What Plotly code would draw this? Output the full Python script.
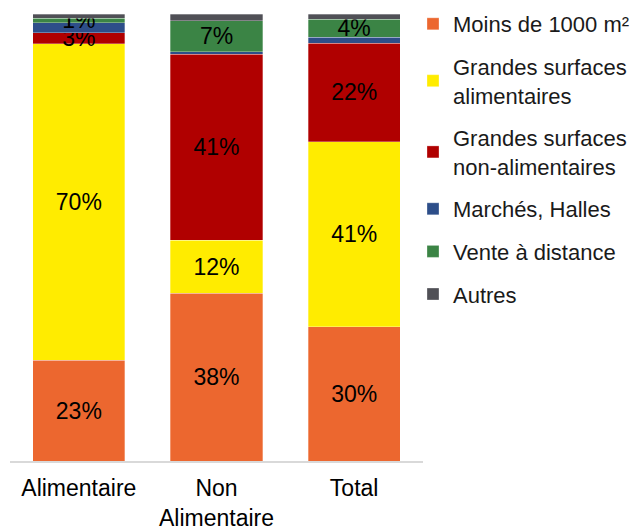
import plotly.graph_objects as go

categories = ["Alimentaire", "Non<br>Alimentaire", "Total"]
series_names = ["Moins de 1000 m²", "Grandes surfaces<br>alimentaires",
                "Grandes surfaces<br>non-alimentaires", "Marchés, Halles",
                "Vente à distance", "Autres"]
moins_1000 = [22.5, 37.5, 30.0]
gs_alim = [70.8, 11.9, 41.4]
gs_non_alim = [2.5, 41.6, 22.1]
marches = [2.2, 0.6, 1.3]
vente_distance = [1.1, 6.9, 4.0]
autres = [0.9, 1.5, 1.2]
labels_moins = ["23%", "38%", "30%"]
labels_gs_alim = ["70%", "12%", "41%"]
labels_gs_non = ["3%", "41%", "22%"]
labels_marches = ["", "", ""]
labels_vente = ["1%", "7%", "4%"]
labels_autres = ["", "", ""]

colors = ["#EC672F", "#FFEC00", "#B00000", "#2D4E89", "#3B8445", "#505056"]
values = [moins_1000, gs_alim, gs_non_alim, marches, vente_distance, autres]
texts = [labels_moins, labels_gs_alim, labels_gs_non, labels_marches, labels_vente, labels_autres]

FONT = "Liberation Sans, Arial, sans-serif"

fig = go.Figure()
for i, name in enumerate(series_names):
    fig.add_trace(go.Bar(
        x=categories, y=values[i], name=name,
        marker=dict(color=colors[i], line=dict(color="rgba(255,255,255,0.5)", width=0.6)),
        text=texts[i], textposition="inside", insidetextanchor="middle",
        textfont=dict(color="black", size=23, family=FONT),
        legendgroup=str(i), hoverinfo="skip",
    ))

fig.update_layout(
    barmode="stack", bargap=0.33,
    width=633, height=522,
    margin=dict(l=2, r=218, t=6, b=69, autoexpand=False),
    plot_bgcolor="white", paper_bgcolor="white",
    font=dict(family=FONT, color="black", size=22),
    uniformtext=dict(minsize=23, mode="show"),
    showlegend=True,
    legend=dict(x=0.9758, y=1.0246,
                xanchor="left", yanchor="top",
                traceorder="grouped", tracegroupgap=11, maxheight=500,
                font=dict(size=22, family=FONT, color="#1a1a1a"),
                bgcolor="rgba(0,0,0,0)"),
    xaxis=dict(showline=True, linecolor="#D9D9D9", linewidth=1.5, ticks="",
               automargin=False, ticklabelstandoff=6,
               tickfont=dict(size=23, family=FONT, color="black"), showgrid=False),
    yaxis=dict(range=[0, 100], visible=False, showgrid=False, automargin=False),
)

fig.write_html("out.html")
